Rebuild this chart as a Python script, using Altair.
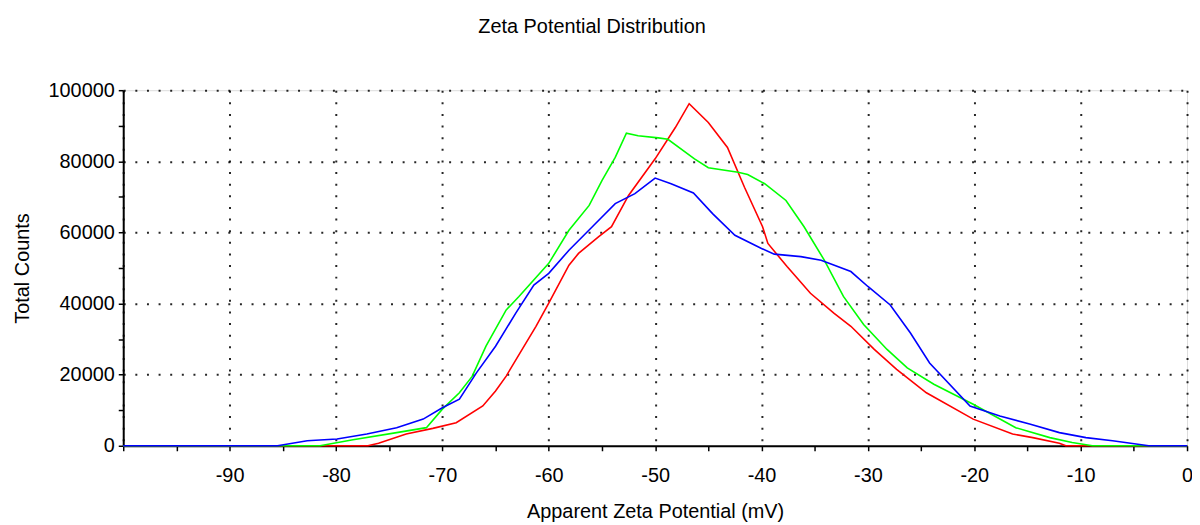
import altair as alt
import pandas as pd

# Red series
red_x = [-100, -77.0, -76.0, -73.4, -70.9, -68.7, -66.2, -65.0, -64.0, -62.5, -61.2, -60.0,
         -58.1, -57.2, -55.3, -54.1, -52.5, -50.0, -48.1, -46.8, -45.0, -43.2, -41.6, -39.9,
         -39.4, -37.6, -35.4, -33.2, -31.6, -29.4, -27.3, -24.5, -20.1, -16.4, -14.5, -12.0,
         -11.4, 0]
red_y = [0, 0, 700, 3300, 4900, 6500, 11200, 15400, 19600, 27100, 33600, 40100,
         50800, 54100, 58800, 61600, 70400, 80700, 89500, 96200, 90900, 83900, 72700, 61600,
         56900, 50400, 42900, 37300, 33600, 27100, 21500, 14900, 7500, 3300, 2300, 700,
         0, 0]

# Green series
green_x = [-100, -81.5, -78.4, -74.3, -71.5, -70.0, -68.4, -67.2, -65.9, -64.0, -62.8, -60.0,
           -58.1, -56.2, -55.0, -53.75, -52.7, -51.6, -49.7, -48.8, -46.3, -45.0, -42.2, -41.3,
           -39.7, -37.7, -36.0, -34.1, -32.3, -30.4, -28.2, -26.3, -23.8, -20.1, -16.1, -12.9,
           -10.8, -8.9, 0]
green_y = [0, 0, 1700, 3700, 5100, 10300, 14900, 19500, 28000, 38200, 42000, 51300,
           60600, 67600, 74600, 81100, 87900, 87200, 86600, 86200, 80700, 78200, 76900, 76300,
           73700, 69000, 61600, 52200, 42000, 34100, 27100, 21900, 17300, 11700, 5100, 2300,
           900, 0, 0]

# Blue series
blue_x = [-100, -85.5, -82.7, -79.9, -77.1, -74.3, -71.8, -70.0, -68.4, -66.8, -65.0, -63.1,
          -61.4, -60.0, -58.1, -55.6, -53.75, -51.9, -50.0, -48.5, -46.4, -44.6, -42.5, -40.0,
          -38.8, -36.3, -34.4, -31.6, -30.0, -27.9, -26.0, -24.2, -20.4, -17.6, -14.8, -12.0,
          -9.5, -7.0, -3.6, 0]
blue_y = [0, 0, 1400, 1900, 3300, 5100, 7500, 10700, 13100, 20500, 28000, 37300,
          45200, 48500, 55000, 62500, 68100, 70900, 75300, 73700, 71100, 65300, 59200, 55500,
          53900, 53200, 52200, 49000, 44800, 39600, 31700, 23300, 11200, 8400, 6100, 3700,
          2300, 1400, 0, 0]

series_names = ["a_red", "b_green", "c_blue"]
series_colors = ["#ff0000", "#00ff00", "#0000ff"]

x_ticks = list(range(-100, 1, 5))
y_ticks = list(range(0, 100001, 10000))

frames = []
for name, xs, ys in zip(series_names, [red_x, green_x, blue_x], [red_y, green_y, blue_y]):
    frames.append(pd.DataFrame({"zeta": xs, "counts": ys, "series": name}))
df = pd.concat(frames, ignore_index=True)
df["order"] = df.index

FONT = "Liberation Sans"

x_axis = alt.Axis(
    values=x_ticks,
    labelExpr="(datum.value % 10 == 0 && datum.value > -100) ? ('' + datum.value) : ''",
    labelFont=FONT, labelFontSize=20, labelColor="#000",
    labelPadding=15, labelFlush=False, labelOverlap=False,
    title="Apparent Zeta Potential (mV)",
    titleFont=FONT, titleFontSize=20, titleFontWeight="normal", titleColor="#000",
    titlePadding=16,
    domainColor="#000", domainWidth=2,
    tickColor="#000", tickWidth=1.5, tickSize=5,
    grid=True, gridColor="#000", gridWidth=2, gridDash=[2, 9.7],
    gridOpacity={"condition": {"test": "datum.value % 10 == 0", "value": 0.85}, "value": 0},
)

y_axis = alt.Axis(
    values=y_ticks,
    labelExpr="(datum.value % 20000 == 0) ? ('' + datum.value) : ''",
    labelFont=FONT, labelFontSize=20, labelColor="#000",
    labelPadding=4, labelOverlap=False, labelFlush=False,
    title="Total Counts",
    titleFont=FONT, titleFontSize=20, titleFontWeight="normal", titleColor="#000",
    titlePadding=16,
    domainColor="#000", domainWidth=2,
    tickColor="#000", tickWidth=1.5, tickSize=5,
    grid=True, gridColor="#000", gridWidth=2, gridDash=[2, 9.7],
    gridOpacity={"condition": {"test": "datum.value % 20000 == 0 && datum.value > 0", "value": 0.85}, "value": 0},
)

chart = alt.Chart(df).mark_line(strokeWidth=1.6).encode(
    x=alt.X("zeta:Q", scale=alt.Scale(domain=[-100, 0], nice=False, zero=False), axis=x_axis),
    y=alt.Y("counts:Q", scale=alt.Scale(domain=[0, 100000], nice=False), axis=y_axis),
    color=alt.Color("series:N", scale=alt.Scale(domain=series_names, range=series_colors), legend=None),
    order="order:Q",
).properties(
    width=1071,
    height=358,
    title=alt.TitleParams(
        "Zeta Potential Distribution",
        font=FONT, fontSize=20, fontWeight="normal", color="#000",
        anchor="middle", frame="group", dx=-63.5, offset=28, baseline="alphabetic",
    ),
    autosize=alt.AutoSizeParams(type="none"),
    padding={"left": 116, "top": 81, "right": 5, "bottom": 78},
).configure_view(stroke=None).configure(background="white")

chart.save("out.html", embed_options={"renderer": "svg", "actions": False})
